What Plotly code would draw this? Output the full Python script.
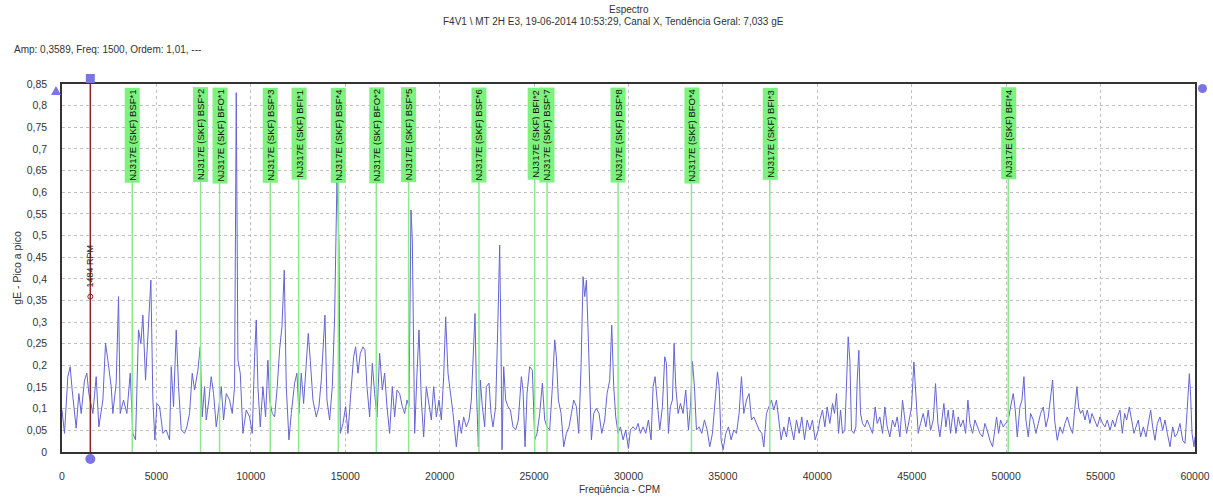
import plotly.graph_objects as go

# ---------------- data ----------------
freq_low = [0,133,309,433,539,663,751,892,1016,1192,1316,1422,1634,1810,1952,2164,2305,2429,2605,2693,2870,2994,3082,3259,3435,3612,3753,3894,4053,4177,4283,4424,4548,4636,4707,4813,4919,5025,5166,5342,5519,5696,5784,5908,6049,6172,6314,6490,6614,6755,6896,7020,7197,7320,7426,7550,7638,7779,7903,8027,8168,8309,8433,8557,8698,8874,9016,9139,9228,9316,9440,9581,9757,9934,10075,10199,10287,10376,10499,10640,10782,10905,10994,11135,11259,11400,11523,11647,11771,11877,12018,12142,12318,12442,12548,12671,12795,12936,13042,13148,13289,13466,13607,13731,13855,13925,14031,14172,14314,14437,14561,14667,14738,14879,15020,15144,15320,15444,15550,15674,15797,15938,16044,16150,16292,16433,16557,16680,16821,16963,17086,17210,17351,17492,17616,17740,17881,18022,18146,18270,18375,18481,18552,18587,18676,18799,18905,19029,19153,19294,19435,19559,19682,19824,19965,20089,20212,20318,20442]
amp_low = [0.097,0.043,0.174,0.197,0.143,0.089,0.055,0.135,0.089,0.166,0.182,0.135,0.089,0.174,0.058,0.120,0.251,0.212,0.151,0.089,0.159,0.359,0.089,0.120,0.089,0.182,0.043,0.028,0.282,0.251,0.316,0.166,0.274,0.366,0.397,0.120,0.028,0.112,0.105,0.043,0.051,0.028,0.197,0.105,0.282,0.151,0.051,0.043,0.058,0.089,0.182,0.143,0.189,0.243,0.081,0.151,0.074,0.120,0.174,0.135,0.058,0.105,0.151,0.074,0.135,0.120,0.089,0.151,0.830,0.212,0.182,0.043,0.097,0.081,0.043,0.220,0.305,0.151,0.058,0.151,0.081,0.212,0.120,0.089,0.081,0.151,0.236,0.289,0.420,0.151,0.028,0.089,0.159,0.182,0.089,0.182,0.112,0.205,0.274,0.212,0.120,0.081,0.105,0.166,0.251,0.316,0.120,0.074,0.151,0.312,0.630,0.482,0.043,0.066,0.105,0.043,0.151,0.220,0.243,0.182,0.228,0.243,0.236,0.151,0.081,0.205,0.135,0.081,0.228,0.143,0.182,0.105,0.043,0.151,0.081,0.143,0.135,0.105,0.089,0.120,0.105,0.559,0.490,0.343,0.043,0.182,0.282,0.120,0.035,0.151,0.112,0.074,0.151,0.081,0.120,0.074,0.174,0.312,0.182]

freq_mid = [20618,20706,20883,21024,21148,21271,21412,21554,21677,21801,21872,21942,22048,22154,22260,22384,22472,22613,22719,22825,22966,23090,23178,23249,23302,23390,23496,23620,23744,23885,24026,24167,24326,24415,24521,24627,24768,24909,25033,25156,25298,25439,25563,25686,25827,25969,26092,26181,26287,26428,26569,26710,26852,26975,27099,27240,27364,27487,27593,27682,27770,27858,27947,28035,28159,28300,28441,28582,28741,28865,29006,29112,29218,29324,29448,29571,29713,29854,29995,30101,30242,30384,30507,30631,30772,30913,31055,31196,31302,31408,31514,31655,31796,31920,32008,32114,32220,32326,32415,32503,32627,32750,32891,33033,33174,33280,33386,33492,33598,33739,33880,34021,34163,34304,34445,34587,34710,34799,34905,35011,35152,35293,35434,35576,35717,35858,35982,36106,36247,36388,36512,36635,36777,36918,37059,37165,37306,37448,37571,37695,37836,37942,38083,38225,38366,38507,38631,38755,38896,39037,39178,39320,39461,39602,39743,39885,40044]
amp_mid = [0.120,0.089,0.012,0.074,0.043,0.081,0.058,0.074,0.120,0.274,0.320,0.151,0.012,0.166,0.105,0.058,0.151,0.159,0.089,0.058,0.105,0.312,0.478,0.243,0.005,0.197,0.120,0.105,0.097,0.058,0.051,0.074,0.174,0.143,0.012,0.135,0.197,0.189,0.028,0.043,0.089,0.159,0.074,0.058,0.051,0.151,0.259,0.220,0.120,0.089,0.012,0.043,0.058,0.089,0.120,0.105,0.043,0.197,0.405,0.359,0.397,0.282,0.143,0.028,0.089,0.101,0.089,0.043,0.074,0.135,0.166,0.293,0.151,0.081,0.043,0.058,0.028,0.051,0.008,0.051,0.058,0.051,0.066,0.043,0.058,0.043,0.074,0.028,0.151,0.174,0.120,0.051,0.105,0.220,0.205,0.043,0.105,0.120,0.251,0.151,0.089,0.112,0.089,0.143,0.051,0.105,0.209,0.151,0.051,0.058,0.043,0.074,0.051,0.012,0.043,0.120,0.185,0.151,0.028,0.005,0.043,0.058,0.028,0.051,0.043,0.089,0.174,0.089,0.120,0.135,0.074,0.081,0.066,0.051,0.043,0.012,0.089,0.105,0.120,0.097,0.120,0.081,0.028,0.058,0.035,0.081,0.051,0.028,0.074,0.043,0.081,0.028,0.074,0.051,0.074,0.028,0.051]

freq_high = [40133,40274,40398,40521,40662,40804,40910,41016,41122,41228,41334,41457,41545,41634,41722,41810,41934,42040,42111,42199,42287,42393,42517,42640,42782,42923,43064,43170,43311,43453,43576,43700,43841,43982,44106,44230,44371,44512,44618,44724,44865,44989,45113,45219,45342,45466,45607,45748,45872,45996,46137,46261,46384,46490,46596,46702,46808,46932,47055,47197,47338,47462,47585,47726,47850,47974,48080,48221,48345,48468,48609,48751,48874,48998,49139,49280,49404,49492,49598,49704,49846,49987,50111,50234,50375,50481,50587,50729,50835,50941,51047,51170,51294,51435,51576,51700,51824,51965,52106,52230,52353,52459,52565,52707,52848,52989,53113,53236,53378,53519,53643,53748,53837,53943,54049,54172,54296,54437,54543,54684,54826,54967,55108,55232,55356,55497,55638,55762,55885,56027,56150,56274,56380,56521,56645,56768,56874,56998,57122,57263,57404,57528,57652,57758,57881,58005,58146,58288,58411,58535,58676,58817,58941,59065,59206,59347,59471,59595,59701,59771,59842,59948,60000]
amp_high = [0.074,0.097,0.058,0.104,0.066,0.112,0.089,0.135,0.043,0.097,0.043,0.050,0.166,0.266,0.212,0.050,0.043,0.058,0.166,0.235,0.089,0.066,0.058,0.074,0.058,0.043,0.104,0.066,0.081,0.043,0.104,0.058,0.035,0.074,0.058,0.081,0.035,0.120,0.081,0.043,0.074,0.104,0.208,0.120,0.043,0.066,0.089,0.058,0.097,0.050,0.074,0.158,0.066,0.035,0.074,0.112,0.058,0.097,0.043,0.097,0.043,0.081,0.058,0.074,0.043,0.120,0.066,0.043,0.074,0.058,0.043,0.035,0.066,0.050,0.027,0.012,0.058,0.081,0.043,0.074,0.058,0.066,0.074,0.104,0.135,0.097,0.035,0.104,0.120,0.174,0.074,0.035,0.089,0.074,0.043,0.066,0.089,0.104,0.058,0.081,0.120,0.166,0.074,0.027,0.058,0.043,0.066,0.081,0.058,0.043,0.104,0.151,0.104,0.089,0.097,0.074,0.097,0.066,0.089,0.074,0.058,0.081,0.066,0.058,0.074,0.050,0.074,0.058,0.081,0.097,0.043,0.089,0.074,0.104,0.074,0.043,0.058,0.074,0.035,0.058,0.035,0.066,0.097,0.058,0.027,0.066,0.081,0.050,0.074,0.043,0.012,0.058,0.035,0.043,0.066,0.027,0.020,0.104,0.181,0.128,0.043,0.012,0.035]

fault_names = ["BSF*1", "BSF*2", "BFO*1", "BSF*3", "BFI*1", "BSF*4", "BFO*2", "BSF*5",
               "BSF*6", "BFI*2", "BSF*7", "BSF*8", "BFO*4", "BFI*3", "BFI*4"]
fault_freqs = [3719, 7338, 8344, 11030, 12530, 14633, 16646, 18357,
               22082, 25033, 25685, 29447, 33334, 37483, 50109]
bearing = "NJ317E (SKF)"

cursor_freq = 1500
cursor_amp = 0.3589
cursor_text = "1484 RPM"

title_line1 = "Espectro"
title_line2 = "F4V1 \\ MT 2H E3, 19-06-2014 10:53:29, Canal X, Tendência Geral: 7,033 gE"
readout_text = "Amp: 0,3589, Freq: 1500, Ordem: 1,01, ---"
x_title = "Freqüência - CPM"
y_title = "gE - Pico a pico"

x_range = [0, 60000]
y_range = [0, 0.85]

freq_cpm = freq_low + freq_mid + freq_high
amp_ge = amp_low + amp_mid + amp_high
assert len(freq_low) == len(amp_low), (len(freq_low), len(amp_low))
assert len(freq_mid) == len(amp_mid), (len(freq_mid), len(amp_mid))
assert len(freq_high) == len(amp_high), (len(freq_high), len(amp_high))

FONT = "Liberation Sans, Arial, sans-serif"
SPEC_COLOR = "#6464d4"
HANDLE_COLOR = "#7b74e6"
GREEN_LINE = "#8ee88e"
GREEN_BOX = "#7ef27e"
CURSOR_COLOR = "#8b2323"

fig = go.Figure()

fig.add_trace(go.Scatter(
    x=freq_cpm, y=amp_ge, mode="lines",
    line=dict(color=SPEC_COLOR, width=1),
    hoverinfo="skip", showlegend=False))

shapes = []
# green fault-frequency lines
for f in fault_freqs:
    shapes.append(dict(type="line", xref="x", yref="y", x0=f, x1=f, y0=0, y1=0.80,
                       line=dict(color=GREEN_LINE, width=1.5), layer="above"))

# cursor line (extends up to its handle above the frame)
shapes.append(dict(type="line", xref="x", yref="paper", x0=cursor_freq, x1=cursor_freq,
                   y0=0, y1=1.012, line=dict(color=CURSOR_COLOR, width=1.5), layer="above"))

# control handles (decorative, pixel-sized, anchored to the frame)
# square handle on top of the cursor
shapes.append(dict(type="rect", xref="x", xsizemode="pixel", xanchor=cursor_freq,
                   x0=-4.5, x1=4.5, yref="paper", ysizemode="pixel", yanchor=1.0,
                   y0=1, y1=10, fillcolor=HANDLE_COLOR, line=dict(width=0), layer="above"))
# round handle under the cursor
shapes.append(dict(type="circle", xref="x", xsizemode="pixel", xanchor=cursor_freq,
                   x0=-5, x1=5, yref="paper", ysizemode="pixel", yanchor=0.0,
                   y0=-12, y1=-2, fillcolor=HANDLE_COLOR, line=dict(width=0), layer="above"))
# triangle handle left of the frame top
shapes.append(dict(type="path", xref="paper", xsizemode="pixel", xanchor=0.0,
                   yref="paper", ysizemode="pixel", yanchor=1.0,
                   path="M -11,-11 L -1,-11 L -6,-2 Z",
                   fillcolor=HANDLE_COLOR, line=dict(width=0), layer="above"))
# round handle right of the frame top
shapes.append(dict(type="circle", xref="paper", xsizemode="pixel", xanchor=1.0,
                   x0=3, x1=12, yref="paper", ysizemode="pixel", yanchor=1.0,
                   y0=-9, y1=0, fillcolor=HANDLE_COLOR, line=dict(width=0), layer="above"))

# cursor point
fig.add_trace(go.Scatter(
    x=[cursor_freq], y=[cursor_amp], mode="markers",
    marker=dict(symbol="circle", size=5, color="white",
                line=dict(color=CURSOR_COLOR, width=1)),
    hoverinfo="skip", showlegend=False))

annotations = []
for name, f in zip(fault_names, fault_freqs):
    annotations.append(dict(
        x=f, y=0.843, xref="x", yref="y", xanchor="center", yanchor="top",
        text=f"{bearing} {name}", textangle=-90, showarrow=False,
        bgcolor=GREEN_BOX, borderpad=1.5,
        font=dict(family=FONT, size=9.5, color="#111111")))

annotations.append(dict(
    x=cursor_freq, y=0.375, xref="x", yref="y", xanchor="center", yanchor="bottom",
    text=cursor_text, textangle=-90, showarrow=False,
    font=dict(family=FONT, size=9, color="#222222")))

annotations += [
    dict(x=0.5, y=1.203, xref="paper", yref="paper", text=title_line1, showarrow=False,
         xanchor="center", yanchor="middle", font=dict(family=FONT, size=10, color="#333333")),
    dict(x=0.487, y=1.170, xref="paper", yref="paper", text=title_line2, showarrow=False,
         xanchor="center", yanchor="middle", font=dict(family=FONT, size=10, color="#333333")),
    dict(x=-0.044, y=1.093, xref="paper", yref="paper", text=readout_text, showarrow=False,
         xanchor="left", yanchor="middle", font=dict(family=FONT, size=10, color="#333333")),
    dict(x=0.492, y=-0.103, xref="paper", yref="paper", text=x_title, showarrow=False,
         xanchor="center", yanchor="middle", font=dict(family=FONT, size=10, color="#333333")),
    dict(x=-0.040, y=0.5, xref="paper", yref="paper", text=y_title, showarrow=False,
         textangle=-90, xanchor="center", yanchor="middle",
         font=dict(family=FONT, size=10.5, color="#333333")),
]

fig.update_layout(
    width=1213, height=497,
    margin=dict(l=62, r=18, t=84, b=45, autoexpand=False),
    paper_bgcolor="white", plot_bgcolor="white",
    separators=",.",
    font=dict(family=FONT, size=10, color="#333333"),
    showlegend=False,
    annotations=annotations,
    shapes=shapes,
    xaxis=dict(range=x_range, dtick=5000, tick0=0, tickformat="d",
               showgrid=True, gridcolor="#c0c0c0", griddash="3px,3px", gridwidth=1,
               zeroline=False, showline=True, linecolor="#333333", linewidth=1.5, mirror=True,
               ticks="outside", ticklen=14, tickcolor="rgba(0,0,0,0)",
               tickfont=dict(family=FONT, size=10.5, color="#333333")),
    yaxis=dict(range=y_range, dtick=0.05, tick0=0,
               showgrid=True, gridcolor="#c0c0c0", griddash="3px,3px", gridwidth=1,
               zeroline=False, showline=True, linecolor="#333333", linewidth=1.5, mirror=True,
               ticks="outside", ticklen=11, tickcolor="rgba(0,0,0,0)",
               tickfont=dict(family=FONT, size=10.5, color="#333333")),
)

fig.write_html("out.html")
